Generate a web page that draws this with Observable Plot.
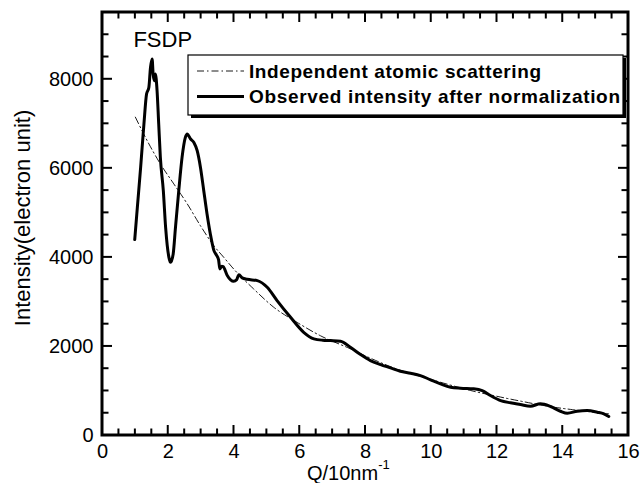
<!DOCTYPE html>
<html>
<head>
<meta charset="utf-8">
<script src="https://cdn.jsdelivr.net/npm/d3@7"></script>
<script src="https://cdn.jsdelivr.net/npm/@observablehq/plot@0.6"></script>
<style>
  html, body { margin: 0; padding: 0; background: #fff; }
  #chart svg { display: block; }
</style>
</head>
<body>
<div id="chart"></div>
<script>
// Observed intensity after normalization
const qObserved = [0.98, 1.06, 1.16, 1.26, 1.34, 1.41, 1.46, 1.51, 1.54, 1.58, 1.61, 1.66, 1.71, 1.76, 1.85, 1.92, 2.02, 2.07, 2.15, 2.22, 2.32, 2.42, 2.52, 2.58, 2.68, 2.78, 2.88, 2.98, 3.08, 3.18, 3.28, 3.39, 3.46, 3.53, 3.57, 3.63, 3.67, 3.79, 3.99, 4.08, 4.15, 4.25, 4.40, 4.71, 5.01, 5.31, 5.72, 6.12, 6.43, 6.70, 6.94, 7.24, 7.54, 7.85, 8.15, 8.46, 8.76, 9.06, 9.37, 9.67, 9.98, 10.28, 10.59, 10.89, 11.29, 11.55, 11.80, 12.11, 12.41, 12.71, 13.02, 13.32, 13.63, 13.93, 14.14, 14.44, 14.74, 15.05, 15.25, 15.40];
const iObserved = [4400, 5123, 6021, 6995, 7668, 7816, 8265, 8454, 8117, 7967, 8117, 7742, 6995, 6245, 5498, 4675, 4001, 3889, 4078, 4675, 5498, 6245, 6694, 6771, 6658, 6582, 6396, 6021, 5498, 4975, 4527, 4152, 4060, 3950, 3741, 3800, 3793, 3600, 3463, 3500, 3613, 3539, 3508, 3478, 3328, 3030, 2655, 2318, 2170, 2140, 2132, 2116, 1982, 1818, 1683, 1593, 1519, 1443, 1398, 1346, 1250, 1160, 1084, 1061, 1048, 1010, 898, 785, 734, 696, 658, 711, 651, 545, 500, 545, 561, 523, 487, 426];

// Independent atomic scattering
const qIndependent = [1.00, 1.36, 1.76, 2.17, 2.58, 2.98, 3.39, 3.69, 3.99, 4.60, 5.21, 5.92, 6.63, 7.50, 8.20, 9.00, 9.80, 10.50, 11.20, 12.00, 12.80, 13.60, 14.30, 15.00, 15.40];
const iIndependent = [7150, 6620, 6100, 5650, 5200, 4710, 4260, 4000, 3740, 3290, 2880, 2540, 2240, 1960, 1720, 1480, 1300, 1150, 1010, 880, 760, 650, 580, 520, 490];

// Axis ticks and labels
const xTickLabels = [0, 2, 4, 6, 8, 10, 12, 14, 16];
const xTicks = [0, 0.5, 1, 1.5, 2, 2.5, 3, 3.5, 4, 4.5, 5, 5.5, 6, 6.5, 7, 7.5, 8, 8.5, 9, 9.5, 10, 10.5, 11, 11.5, 12, 12.5, 13, 13.5, 14, 14.5, 15, 15.5, 16];
const yTickLabels = [0, 2000, 4000, 6000, 8000];
const yTicks = [0, 500, 1000, 1500, 2000, 2500, 3000, 3500, 4000, 4500, 5000, 5500, 6000, 6500, 7000, 7500, 8000, 8500, 9000, 9500];

const seriesNames = ["Independent atomic scattering", "Observed intensity after normalization"];
const peakLabel = "FSDP";
const peakLabelPos = {q: 0.94, i: 8890};

const observed = qObserved.map((q, k) => ({q, i: iObserved[k]}));
const independent = qIndependent.map((q, k) => ({q, i: iIndependent[k]}));

const FONT = "'Liberation Sans', Arial, Helvetica, sans-serif";
const xMax = 16, yMax = 9500;
const isMajorX = d => d % 2 === 0;
const isMajorY = d => d % 2000 === 0;

const chart = Plot.plot({
  width: 642,
  height: 483,
  marginLeft: 102,
  marginRight: 14,
  marginTop: 12,
  marginBottom: 48,
  style: {fontFamily: FONT, background: "#fff", color: "#000"},
  x: {domain: [0, xMax], axis: null},
  y: {domain: [0, yMax], axis: null},
  marks: [
    // tick labels
    Plot.text(xTickLabels, {x: d => d, y: () => 0, text: d => String(d), dy: 16, fontSize: 20, fill: "#000"}),
    Plot.text(yTickLabels, {x: () => 0, y: d => d, text: d => String(d), dx: -9, textAnchor: "end", fontSize: 20, fill: "#000"}),
    // series
    Plot.line(independent, {x: "q", y: "i", stroke: "#000", strokeWidth: 0.9, strokeDasharray: "7,3,1.5,3", curve: "monotone-x"}),
    Plot.line(observed, {x: "q", y: "i", stroke: "#000", strokeWidth: 3, curve: "monotone-x", strokeLinejoin: "round", strokeLinecap: "round"}),
    // annotation
    Plot.text([peakLabel], {x: () => peakLabelPos.q, y: () => peakLabelPos.i, text: d => d, textAnchor: "start", fontSize: 22, fill: "#000"})
  ]
});

document.getElementById("chart").appendChild(chart);

const svg = d3.select(chart);
const sx = v => chart.scale("x").apply(v);
const sy = v => chart.scale("y").apply(v);
const X0 = sx(0), X1 = sx(xMax), Y0 = sy(0), Y1 = sy(yMax);

// Inward ticks on all four sides, positioned through Plot's scales
const tg = svg.append("g").attr("fill", "none").attr("stroke", "#000").attr("stroke-width", 2);
for (const d of xTicks) {
  const L = isMajorX(d) ? 10 : 6.5;
  const px = sx(d);
  tg.append("path").attr("d", `M${px},${Y0 - 1}L${px},${Y0 - L}`);
  tg.append("path").attr("d", `M${px},${Y1 + 1}L${px},${Y1 + L}`);
}
for (const d of yTicks) {
  const L = isMajorY(d) ? 10 : 6.5;
  const py = sy(d);
  tg.append("path").attr("d", `M${X0 + 1},${py}L${X0 + L},${py}`);
  tg.append("path").attr("d", `M${X1 - 1},${py}L${X1 - L},${py}`);
}
// Frame
svg.append("rect")
  .attr("x", X0).attr("y", Y1).attr("width", X1 - X0).attr("height", Y0 - Y1)
  .attr("fill", "none").attr("stroke", "#000").attr("stroke-width", 3);

// Y axis label
svg.append("text")
  .attr("transform", "translate(30,218) rotate(-90)")
  .attr("text-anchor", "middle")
  .attr("font-family", FONT)
  .attr("font-size", 22)
  .attr("fill", "#000")
  .text("Intensity(electron unit)");

// X axis label with superscript
const xl = svg.append("text")
  .attr("x", 307).attr("y", 480)
  .attr("text-anchor", "start")
  .attr("font-family", FONT)
  .attr("font-size", 20)
  .attr("fill", "#000");
xl.append("tspan").text("Q/10nm");
xl.append("tspan").attr("font-size", 13).attr("dy", -11).text("-1");

// Legend box with shadow
const lg = svg.append("g");
lg.append("rect").attr("x", 191).attr("y", 58).attr("width", 435).attr("height", 60).attr("fill", "#000");
lg.append("rect").attr("x", 188).attr("y", 55).attr("width", 435).attr("height", 60)
  .attr("fill", "#fff").attr("stroke", "#000").attr("stroke-width", 1.2);
lg.append("line").attr("x1", 197).attr("x2", 244).attr("y1", 71).attr("y2", 71)
  .attr("stroke", "#000").attr("stroke-width", 0.9).attr("stroke-dasharray", "7,3,1.5,3");
lg.append("line").attr("x1", 197).attr("x2", 244).attr("y1", 96.5).attr("y2", 96.5)
  .attr("stroke", "#000").attr("stroke-width", 3);
lg.append("text").attr("x", 249).attr("y", 78).attr("text-anchor", "start").attr("font-family", FONT).attr("font-size", 19)
  .attr("font-weight", "bold").attr("textLength", 292).attr("lengthAdjust", "spacing").attr("fill", "#000")
  .text(seriesNames[0]);
lg.append("text").attr("x", 249).attr("y", 103).attr("text-anchor", "start").attr("font-family", FONT).attr("font-size", 19)
  .attr("font-weight", "bold").attr("textLength", 371).attr("lengthAdjust", "spacing").attr("fill", "#000")
  .text(seriesNames[1]);
</script>
</body>
</html>
